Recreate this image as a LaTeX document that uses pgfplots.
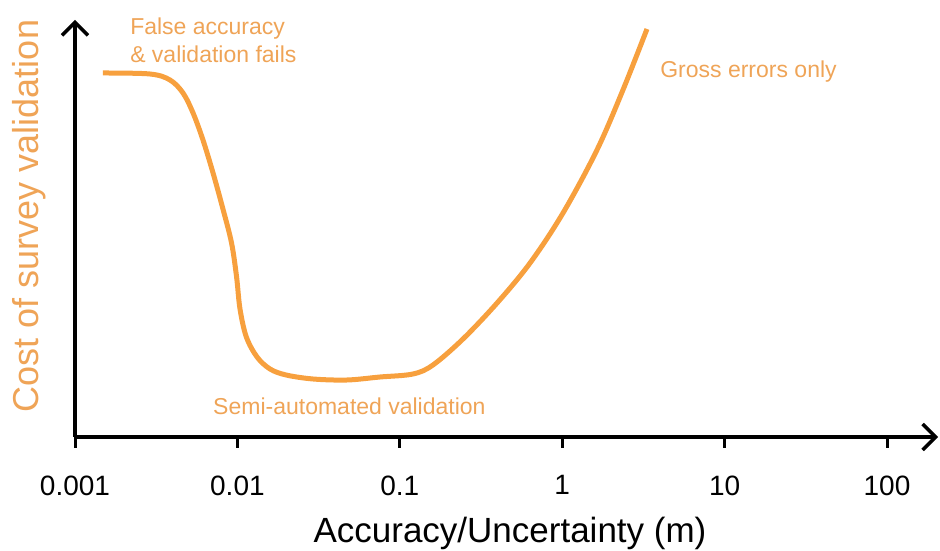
\documentclass[border=0pt]{standalone}
\usepackage{pgfplots}
\pgfplotsset{compat=1.18}
\usepackage{fontspec}
\setmainfont{Liberation Sans}
\usetikzlibrary{arrows.meta}
\definecolor{curve}{HTML}{F7A03E}
\definecolor{txt}{HTML}{EFA457}
\begin{document}
\begin{tikzpicture}[x=1pt,y=1pt]
\useasboundingbox (0,0) rectangle (940,551);
\begin{axis}[
  at={(75pt,114pt)}, anchor=south west,
  scale only axis, width=863pt, height=417pt,
  xmin=-3, xmax=2.314, ymin=0, ymax=417,
  axis x line=bottom, axis y line=left,
  axis line style={line width=3.5pt, black, -{Straight Barb[length=13pt,width=26pt]}},
  xtick={-3,-2,-1,0,1,2},
  xticklabels={0.001,0.01,0.1,1,10,100},
  ytick=\empty,
  tick align=outside,
  major tick length=11pt,
  every tick/.style={line width=3pt, black},
  xticklabel style={font=\fontsize{28}{28}\selectfont, yshift=-24pt},
  xlabel={Accuracy/Uncertainty (m)},
  xlabel style={at={(axis cs:-0.3215,-106)}, anchor=base, font=\fontsize{35}{35}\selectfont, inner sep=0pt},
  ylabel={Cost of survey validation},
  ylabel style={at={(axis cs:-3.2217,221)}, anchor=base, rotate=0, font=\fontsize{36}{36}\selectfont, text=txt, inner sep=0pt},
  clip=false,
]
\addplot[curve, line width=5pt, smooth, tension=0.55] table {
x y
-2.828 364
-2.538 363
-2.415 357
-2.335 344
-2.273 324
-2.212 297
-2.150 264
-2.089 228
-2.036 194
-2.005 160
-1.984 128
-1.945 100
-1.879 80
-1.799 68
-1.700 62
-1.534 58
-1.325 57
-1.122 60
-0.919 63
-0.796 72
-0.611 98
-0.401 134
-0.198 174
0.005 224
0.214 287
0.374 347
0.522 408
};
\node[anchor=base west, text=txt, font=\fontsize{23}{23}\selectfont, inner sep=0pt] at (axis cs:-2.661,402) {False accuracy};
\node[anchor=base west, text=txt, font=\fontsize{23}{23}\selectfont, inner sep=0pt] at (axis cs:-2.661,374) {\& validation fails};
\node[anchor=base west, text=txt, font=\fontsize{23}{23}\selectfont, inner sep=0pt] at (axis cs:0.603,359) {Gross errors only};
\node[anchor=base west, text=txt, font=\fontsize{23}{23}\selectfont, inner sep=0pt] at (axis cs:-2.150,22) {Semi-automated validation};
\end{axis}
\end{tikzpicture}
\end{document}
